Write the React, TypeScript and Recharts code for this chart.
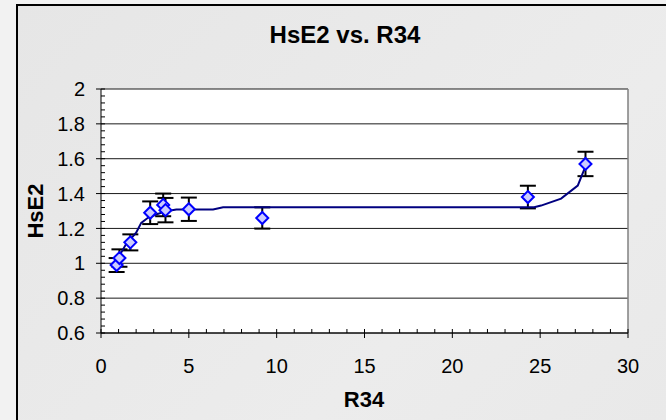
import { ScatterChart, Scatter, XAxis, YAxis, CartesianGrid, ErrorBar, ReferenceLine, Text } from 'recharts'

// measured points with error bars (x = R34, y = HsE2)
const r34 = [0.89, 1.05, 1.67, 2.8, 3.54, 3.67, 5.0, 9.18, 24.3, 27.58]
const hse2 = [0.99, 1.03, 1.12, 1.29, 1.335, 1.305, 1.31, 1.26, 1.38, 1.57]
const hse2Err = [0.04, 0.05, 0.046, 0.065, 0.065, 0.07, 0.067, 0.061, 0.065, 0.07]

// fitted curve
const fitX = [1.05, 1.14, 1.43, 2.0, 2.29, 2.67, 3.14, 3.71, 4.29, 6.38, 6.95, 24.66, 25.05, 26.19, 27.14, 27.58]
const fitY = [1.03, 1.06, 1.11, 1.175, 1.232, 1.261, 1.28, 1.299, 1.309, 1.309, 1.322, 1.322, 1.331, 1.371, 1.446, 1.556]

const xTicks = [0, 5, 10, 15, 20, 25, 30]
const xMinorTicks = [0, 1, 2, 3, 4, 5, 6, 7, 8, 9, 10, 11, 12, 13, 14, 15, 16, 17, 18, 19, 20, 21, 22, 23, 24, 25, 26, 27, 28, 29, 30]
const yTicks = [0.6, 0.8, 1, 1.2, 1.4, 1.6, 1.8, 2]
const yMinorTicks = [
  0.6, 0.64, 0.68, 0.72, 0.76, 0.8, 0.84, 0.88, 0.92, 0.96, 1, 1.04, 1.08, 1.12, 1.16, 1.2, 1.24, 1.28, 1.32,
  1.36, 1.4, 1.44, 1.48, 1.52, 1.56, 1.6, 1.64, 1.68, 1.72, 1.76, 1.8, 1.84, 1.88, 1.92, 1.96, 2,
]

const points = r34.map((x, i) => ({ x, y: hse2[i], err: hse2Err[i] }))
const fit = fitX.map((x, i) => ({ x, y: fitY[i] }))

const FONT = 'Arial, "Liberation Sans", sans-serif'
const TICK_OUT = 5
const TICK_IN = 4
const X_MARGIN = 21
const Y_MARGIN = 11

const isMajor = (v: number, majors: number[]) => majors.some(m => Math.abs(m - v) < 1e-6)

// x tick: minor ticks point up into the plot, major ones cross the axis and get a label
function XTick(props: any) {
  const { x, y, payload } = props
  const axisY = y - TICK_OUT - X_MARGIN
  const major = isMajor(payload.value, xTicks)
  return (
    <g>
      <line x1={x} x2={x} y1={axisY - TICK_IN} y2={major ? axisY + TICK_OUT : axisY} stroke="#000" strokeWidth={1} />
      {major && (
        <Text x={x} y={y} textAnchor="middle" verticalAnchor="start" fontSize={20} fontFamily={FONT} fill="#000">
          {String(payload.value)}
        </Text>
      )}
    </g>
  )
}

function YTick(props: any) {
  const { x, y, payload } = props
  const axisX = x + TICK_OUT + Y_MARGIN
  const major = isMajor(payload.value, yTicks)
  return (
    <g>
      <line x1={major ? axisX - TICK_OUT : axisX} x2={axisX + TICK_IN} y1={y} y2={y} stroke="#000" strokeWidth={1} />
      {major && (
        <Text x={x} y={y} textAnchor="end" verticalAnchor="middle" fontSize={20} fontFamily={FONT} fill="#000">
          {String(payload.value)}
        </Text>
      )}
    </g>
  )
}

function Diamond(props: any) {
  const { cx, cy } = props
  if (cx == null || cy == null) return null
  const r = 6
  return (
    <polygon
      points={`${cx},${cy - r} ${cx + r},${cy} ${cx},${cy + r} ${cx - r},${cy}`}
      fill="#ccccff"
      stroke="#0000ff"
      strokeWidth={2}
    />
  )
}

export default function App() {
  return (
    <div style={{ position: 'absolute', left: 0, top: 0, width: 666, height: 420, overflow: 'hidden', background: '#f2f2f2' }}>
      <div
        style={{
          position: 'absolute',
          left: 16,
          top: 4,
          width: 720,
          height: 460,
          border: '2px solid #000',
          background: 'linear-gradient(135deg, #e6e6e6 0%, #ececec 60%, #e8e8e8 100%)',
        }}
      />
      <div style={{ position: 'absolute', left: 0, top: 0 }}>
        <ScatterChart width={666} height={420} margin={{ top: 89, right: 38, bottom: 0, left: 0 }}>
          <CartesianGrid vertical={false} horizontalValues={yTicks} stroke="#1a1a1a" fill="#ffffff" />
          <XAxis
            type="number"
            dataKey="x"
            domain={[0, 30]}
            ticks={xMinorTicks}
            interval={0}
            allowDataOverflow
            height={87}
            tickSize={TICK_OUT}
            tickMargin={X_MARGIN}
            tickLine={false}
            stroke="#000"
            tick={<XTick />}
          />
          <YAxis
            type="number"
            dataKey="y"
            domain={[0.6, 2]}
            ticks={yMinorTicks}
            interval={0}
            allowDataOverflow
            width={101}
            tickSize={TICK_OUT}
            tickMargin={Y_MARGIN}
            tickLine={false}
            stroke="#000"
            tick={<YTick />}
          />
          <ReferenceLine x={30} stroke="#808080" strokeWidth={1.5} />
          <Scatter
            data={fit}
            line={{ stroke: '#000080', strokeWidth: 2 }}
            lineType="joint"
            shape={() => <g />}
            isAnimationActive={false}
          />
          <Scatter data={points} shape={Diamond} isAnimationActive={false}>
            <ErrorBar dataKey="err" direction="y" width={8} stroke="#000" strokeWidth={2} isAnimationActive={false} />
          </Scatter>
        </ScatterChart>
      </div>
      <svg width={666} height={420} style={{ position: 'absolute', left: 0, top: 0, pointerEvents: 'none' }}>
        <text x={345} y={43} textAnchor="middle" fontFamily={FONT} fontWeight="bold" fontSize={24} fill="#000">
          HsE2 vs. R34
        </text>
        <text x={364} y={407} textAnchor="middle" fontFamily={FONT} fontWeight="bold" fontSize={22} fill="#000">
          R34
        </text>
        <text
          x={43}
          y={211}
          transform="rotate(-90 43 211)"
          textAnchor="middle"
          fontFamily={FONT}
          fontWeight="bold"
          fontSize={22}
          fill="#000"
        >
          HsE2
        </text>
      </svg>
    </div>
  )
}
